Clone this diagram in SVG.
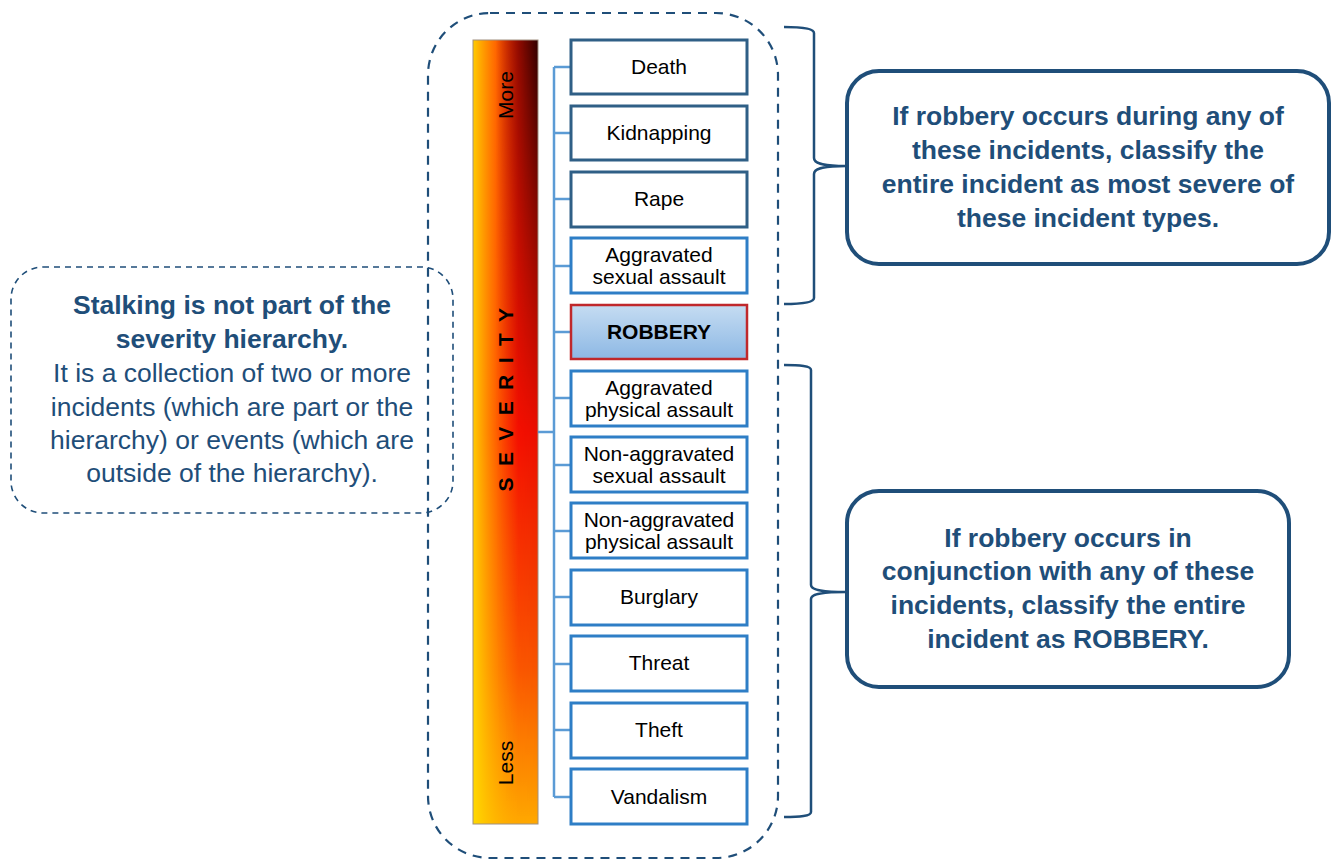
<svg xmlns="http://www.w3.org/2000/svg" width="1331" height="860" viewBox="0 0 1331 860">
<style>
.box{fill:#fff;stroke:#2E7EC6;stroke-width:3}
.boxd{fill:#fff;stroke:#2F5F86;stroke-width:3}
.lbl{font-family:"Liberation Sans",Arial,sans-serif;font-size:21px;fill:#000;text-anchor:middle}
.note{font-family:"Liberation Sans",Arial,sans-serif;font-size:26.5px;fill:#1F4E79;text-anchor:middle}
.b{font-weight:bold}
.conn{stroke:#5B9BD5;stroke-width:2.5;fill:none}
.brace{stroke:#1F4E79;stroke-width:2.5;fill:none}
</style>
<defs>
<linearGradient id="vert" x1="0" y1="0" x2="0" y2="1">
<stop offset="0" stop-color="#FF1800"/>
<stop offset="0.5" stop-color="#FF1000"/>
<stop offset="0.8" stop-color="#FF5800"/>
<stop offset="1" stop-color="#FFA800"/>
</linearGradient>
<linearGradient id="hleft" x1="0" y1="0" x2="1" y2="0">
<stop offset="0" stop-color="#FFE000" stop-opacity="0.9"/>
<stop offset="0.7" stop-color="#FFB000" stop-opacity="0"/>
</linearGradient>
<linearGradient id="hdark" x1="0" y1="0" x2="1" y2="0">
<stop offset="0.35" stop-color="#300000" stop-opacity="0"/>
<stop offset="1" stop-color="#300000" stop-opacity="1"/>
</linearGradient>
<linearGradient id="vmask" x1="0" y1="0" x2="0" y2="1">
<stop offset="0" stop-color="#fff"/>
<stop offset="0.5" stop-color="#fff" stop-opacity="0.1"/>
<stop offset="1" stop-color="#fff" stop-opacity="0"/>
</linearGradient>
<mask id="m1"><rect x="473" y="40" width="65" height="784" fill="url(#vmask)"/></mask>
<linearGradient id="rob" x1="0" y1="0" x2="0" y2="1">
<stop offset="0" stop-color="#C5DCF2"/>
<stop offset="1" stop-color="#8DB8E4"/>
</linearGradient>
</defs>

<g id="outer-frame">
<rect x="428" y="13" width="350" height="845" rx="62" fill="none" stroke="#1F4E79" stroke-width="2.2" stroke-dasharray="9,7"/>
</g>

<g id="stalking-note">
<rect x="11" y="267" width="442" height="246" rx="32" fill="none" stroke="#1F4E79" stroke-width="1.6" stroke-dasharray="6,5"/>
<text class="note b" x="232" y="314">Stalking is not part of the</text>
<text class="note b" x="232" y="348">severity hierarchy.</text>
<text class="note" x="232" y="382">It is a collection of two or more</text>
<text class="note" x="232" y="416">incidents (which are part or the</text>
<text class="note" x="232" y="449">hierarchy) or events (which are</text>
<text class="note" x="232" y="482">outside of the hierarchy).</text>
</g>

<g id="severity-bar">
<rect x="473" y="40" width="65" height="784" fill="url(#vert)"/>
<rect x="473" y="40" width="65" height="784" fill="url(#hleft)"/>
<rect x="473" y="40" width="65" height="784" fill="url(#hdark)" mask="url(#m1)"/>
<rect x="473" y="40" width="65" height="784" fill="none" stroke="#A09080" stroke-width="1"/>
<text class="lbl" transform="translate(513,95) rotate(-90)">More</text>
<text class="lbl" transform="translate(513,763) rotate(-90)">Less</text>
<text class="lbl b" transform="translate(513,394) rotate(-90)" letter-spacing="11.4">SEVERITY</text>
</g>

<g id="connectors">
<path class="conn" d="M538,432 H554 M554,67 V797 M554,67 H570 M554,133 H570 M554,199 H570 M554,266 H570 M554,332 H570 M554,398 H570 M554,465 H570 M554,531 H570 M554,597 H570 M554,664 H570 M554,730 H570 M554,797 H570"/>
</g>

<g id="n-death"><rect class="boxd" x="571" y="40" width="176" height="54"/><text class="lbl" x="659" y="74">Death</text></g>
<g id="n-kidnapping"><rect class="boxd" x="571" y="106" width="176" height="54"/><text class="lbl" x="659" y="140">Kidnapping</text></g>
<g id="n-rape"><rect class="boxd" x="571" y="172" width="176" height="55"/><text class="lbl" x="659" y="206">Rape</text></g>
<g id="n-agg-sexual"><rect class="box" x="571" y="238" width="176" height="55"/><text class="lbl" x="659" y="262">Aggravated</text><text class="lbl" x="659" y="284">sexual assault</text></g>
<g id="n-robbery"><rect x="571" y="305" width="176" height="54" fill="url(#rob)" stroke="#C0282B" stroke-width="2.5"/><text class="lbl b" x="659" y="339">ROBBERY</text></g>
<g id="n-agg-physical"><rect class="box" x="571" y="371" width="176" height="55"/><text class="lbl" x="659" y="395">Aggravated</text><text class="lbl" x="659" y="417">physical assault</text></g>
<g id="n-nonagg-sexual"><rect class="box" x="571" y="437" width="176" height="55"/><text class="lbl" x="659" y="461">Non-aggravated</text><text class="lbl" x="659" y="483">sexual assault</text></g>
<g id="n-nonagg-physical"><rect class="box" x="571" y="503" width="176" height="55"/><text class="lbl" x="659" y="527">Non-aggravated</text><text class="lbl" x="659" y="549">physical assault</text></g>
<g id="n-burglary"><rect class="box" x="571" y="570" width="176" height="55"/><text class="lbl" x="659" y="604">Burglary</text></g>
<g id="n-threat"><rect class="box" x="571" y="636" width="176" height="55"/><text class="lbl" x="659" y="670">Threat</text></g>
<g id="n-theft"><rect class="box" x="571" y="703" width="176" height="55"/><text class="lbl" x="659" y="737">Theft</text></g>
<g id="n-vandalism"><rect class="box" x="571" y="769" width="176" height="55"/><text class="lbl" x="659" y="804">Vandalism</text></g>

<g id="braces">
<path class="brace" d="M784,27 C800,27 814,28 814,33 V158 C814,163 820,166 846,166 M846,166 C820,166 814,169 814,174 V298 C814,303 800,304 784,304"/>
<path class="brace" d="M784,365 C800,365 811,366 811,370 V585 C811,589 818,592 846,592 M846,592 C818,592 811,595 811,599 V812 C811,816 800,817 784,817"/>
</g>

<g id="note-severe">
<rect x="847" y="71" width="482" height="193" rx="32" fill="#fff" stroke="#1F4E79" stroke-width="4"/>
<text class="note b" x="1088" y="125">If robbery occurs during any of</text>
<text class="note b" x="1088" y="159">these incidents, classify the</text>
<text class="note b" x="1088" y="193">entire incident as most severe of</text>
<text class="note b" x="1088" y="227">these incident types.</text>
</g>

<g id="note-robbery">
<rect x="847" y="491" width="442" height="196" rx="32" fill="#fff" stroke="#1F4E79" stroke-width="4"/>
<text class="note b" x="1068" y="547">If robbery occurs in</text>
<text class="note b" x="1068" y="580">conjunction with any of these</text>
<text class="note b" x="1068" y="614">incidents, classify the entire</text>
<text class="note b" x="1068" y="648">incident as ROBBERY.</text>
</g>
</svg>
